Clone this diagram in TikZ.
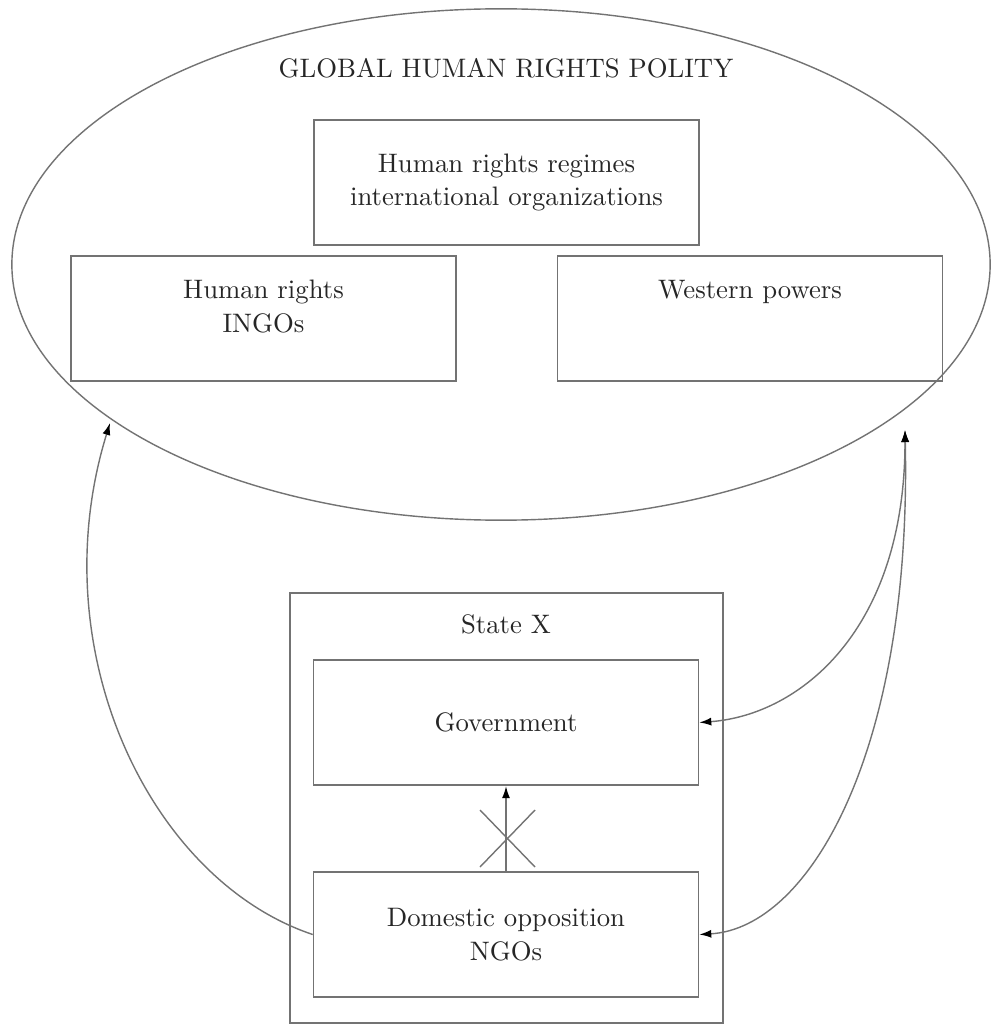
\documentclass[tikz,border=0pt]{standalone}
\usepackage{tikz}
\usetikzlibrary{shapes,arrows.meta}

\begin{document}
\begin{tikzpicture}[x=0.0125cm,y=-0.0125cm]
\tikzstyle{every node}=[font=\fontsize{9.5}{12}\selectfont, text=black!85, align=center]
\tikzstyle{box}=[rectangle, draw=black!55, line width=0.6pt, minimum width=4.81cm, minimum height=1.57cm, inner sep=0pt]
\tikzstyle{link}=[draw=black!55, line width=0.5pt]
\tikzstyle{tip}=[-{Latex[length=1.5mm,width=1mm,color=black]}]
\tikzstyle{tips}=[{Latex[length=1.5mm,width=1mm,color=black]}-{Latex[length=1.5mm,width=1mm,color=black]}]

\useasboundingbox (0,0) rectangle (992,1026);

% the global polity
\node[ellipse, draw=black!55, line width=0.5pt, minimum width=12.225cm, minimum height=6.39cm, inner sep=0pt] (polity) at (501,264.5) {};
\node (title) at (506,68) {GLOBAL HUMAN RIGHTS POLITY};
\node[box] (regimes) at (506.5,182.5) {Human rights regimes\\ international organizations};
\node[box, text depth=8.8pt] (ingos) at (263.5,318.5) {Human rights\\ INGOs};
\node[box, text depth=20.5pt] (west) at (750,318.5) {Western powers};

% the state
\node[box, minimum width=5.41cm, minimum height=5.38cm] (state) at (506.5,808) {};
\node (statex) at (506,624) {State X};
\node[box] (gov) at (506,722.5) {Government};
\node[box] (opp) at (506,934.5) {Domestic opposition\\ NGOs};

\coordinate (ingoend) at (110,423);
\coordinate (westend) at (905,430);

\draw[link,tip] (opp.west) .. controls (150,880) and (40,650) .. (ingoend);
\draw[link,tips] (westend) .. controls (905,630) and (800,715) .. (gov.east);
\draw[link,tips] (westend) .. controls (912,750) and (810,928) .. (opp.east);
\draw[link,tip] (opp.north) -- (gov.south);
\draw[link] (480,810) -- (535,867);
\draw[link] (480,867) -- (535,810);
\end{tikzpicture}
\end{document}
